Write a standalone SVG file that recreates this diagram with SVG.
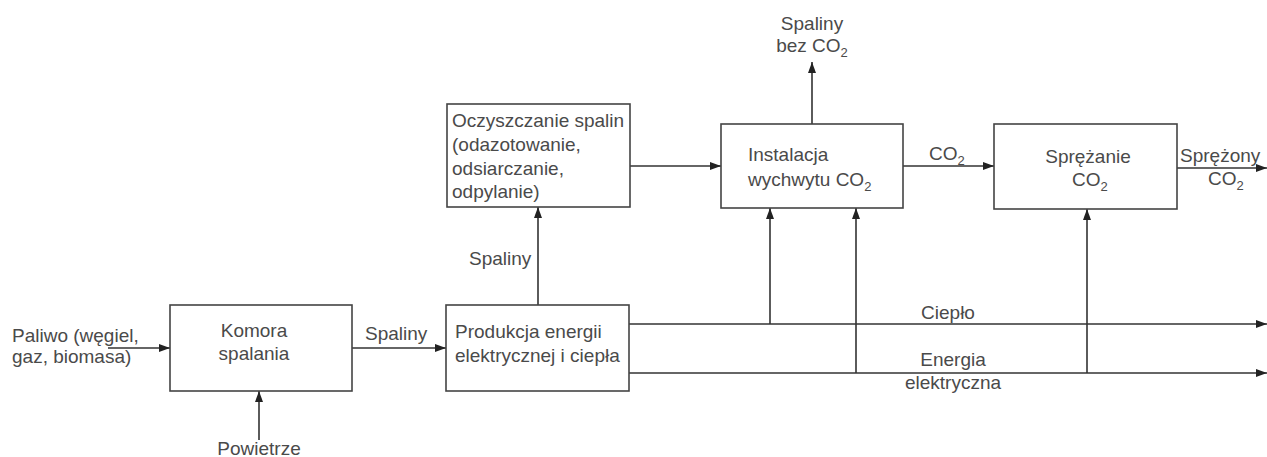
<svg xmlns="http://www.w3.org/2000/svg" width="1267" height="457" viewBox="0 0 1267 457">
<style>
  text { font-family: "Liberation Sans", Arial, sans-serif; font-size: 19px; fill: #4a4a4a; }
  .m { text-anchor: middle; }
  .sub { font-size: 13px; }
  rect.box { fill: #fff; stroke: #444; stroke-width: 1.6; }
  .ln { fill: none; stroke: #333; stroke-width: 1.6; }
  .arr { marker-end: url(#ah); }
</style>
<defs>
  <marker id="ah" markerUnits="userSpaceOnUse" markerWidth="12" markerHeight="8" refX="11" refY="4" orient="auto">
    <path d="M0,0 L11,4 L0,8 z" fill="#222"/>
  </marker>
</defs>
<rect width="1267" height="457" fill="#fff"/>

<g id="connectors">
  <line class="ln arr" x1="108" y1="348" x2="170" y2="348"/>
  <line class="ln arr" x1="259" y1="440" x2="259" y2="391"/>
  <line class="ln arr" x1="352" y1="348" x2="446" y2="348"/>
  <line class="ln arr" x1="538" y1="305" x2="538" y2="207"/>
  <line class="ln arr" x1="630" y1="166" x2="721" y2="166"/>
  <line class="ln arr" x1="812" y1="124" x2="812" y2="62"/>
  <line class="ln arr" x1="903" y1="166" x2="994" y2="166"/>
  <line class="ln arr" x1="1177" y1="168" x2="1267" y2="168"/>
  <line class="ln arr" x1="629" y1="324" x2="1267" y2="324"/>
  <line class="ln arr" x1="629" y1="373" x2="1267" y2="373"/>
  <line class="ln arr" x1="770" y1="324" x2="770" y2="208"/>
  <line class="ln arr" x1="856" y1="373" x2="856" y2="208"/>
  <line class="ln arr" x1="1087" y1="373" x2="1087" y2="209"/>
</g>

<g id="labels">
  <text x="12" y="342">Paliwo (węgiel,</text>
  <text x="12" y="363">gaz, biomasa)</text>
  <text x="365" y="340">Spaliny</text>
  <text class="m" x="259" y="455">Powietrze</text>
  <text x="469" y="265">Spaliny</text>
  <text class="m" x="812" y="30">Spaliny</text>
  <text class="m" x="812" y="52">bez CO<tspan class="sub" dy="5">2</tspan></text>
  <text x="929" y="160">CO<tspan class="sub" dy="5">2</tspan></text>
  <text x="1180" y="162">Sprężony</text>
  <text x="1208" y="185">CO<tspan class="sub" dy="5">2</tspan></text>
  <text class="m" x="948" y="319">Ciepło</text>
  <text class="m" x="953" y="366">Energia</text>
  <text class="m" x="953" y="389">elektryczna</text>
</g>

<g id="komora">
  <rect class="box" x="170" y="305" width="182" height="86"/>
  <text class="m" x="254" y="337">Komora</text>
  <text class="m" x="254" y="360">spalania</text>
</g>

<g id="produkcja">
  <rect class="box" x="446" y="305" width="183" height="86"/>
  <text x="455" y="338">Produkcja energii</text>
  <text x="455" y="362">elektrycznej i ciepła</text>
</g>

<g id="oczyszczanie">
  <rect class="box" x="447" y="104" width="183" height="103"/>
  <text x="452" y="127">Oczyszczanie spalin</text>
  <text x="452" y="151">(odazotowanie,</text>
  <text x="452" y="175">odsiarczanie,</text>
  <text x="452" y="198">odpylanie)</text>
</g>

<g id="instalacja">
  <rect class="box" x="721" y="124" width="182" height="84"/>
  <text x="748" y="161">Instalacja</text>
  <text x="748" y="186">wychwytu CO<tspan class="sub" dy="5">2</tspan></text>
</g>

<g id="sprezanie">
  <rect class="box" x="994" y="124" width="183" height="85"/>
  <text class="m" x="1088" y="163">Sprężanie</text>
  <text x="1072" y="186">CO<tspan class="sub" dy="5">2</tspan></text>
</g>
</svg>
